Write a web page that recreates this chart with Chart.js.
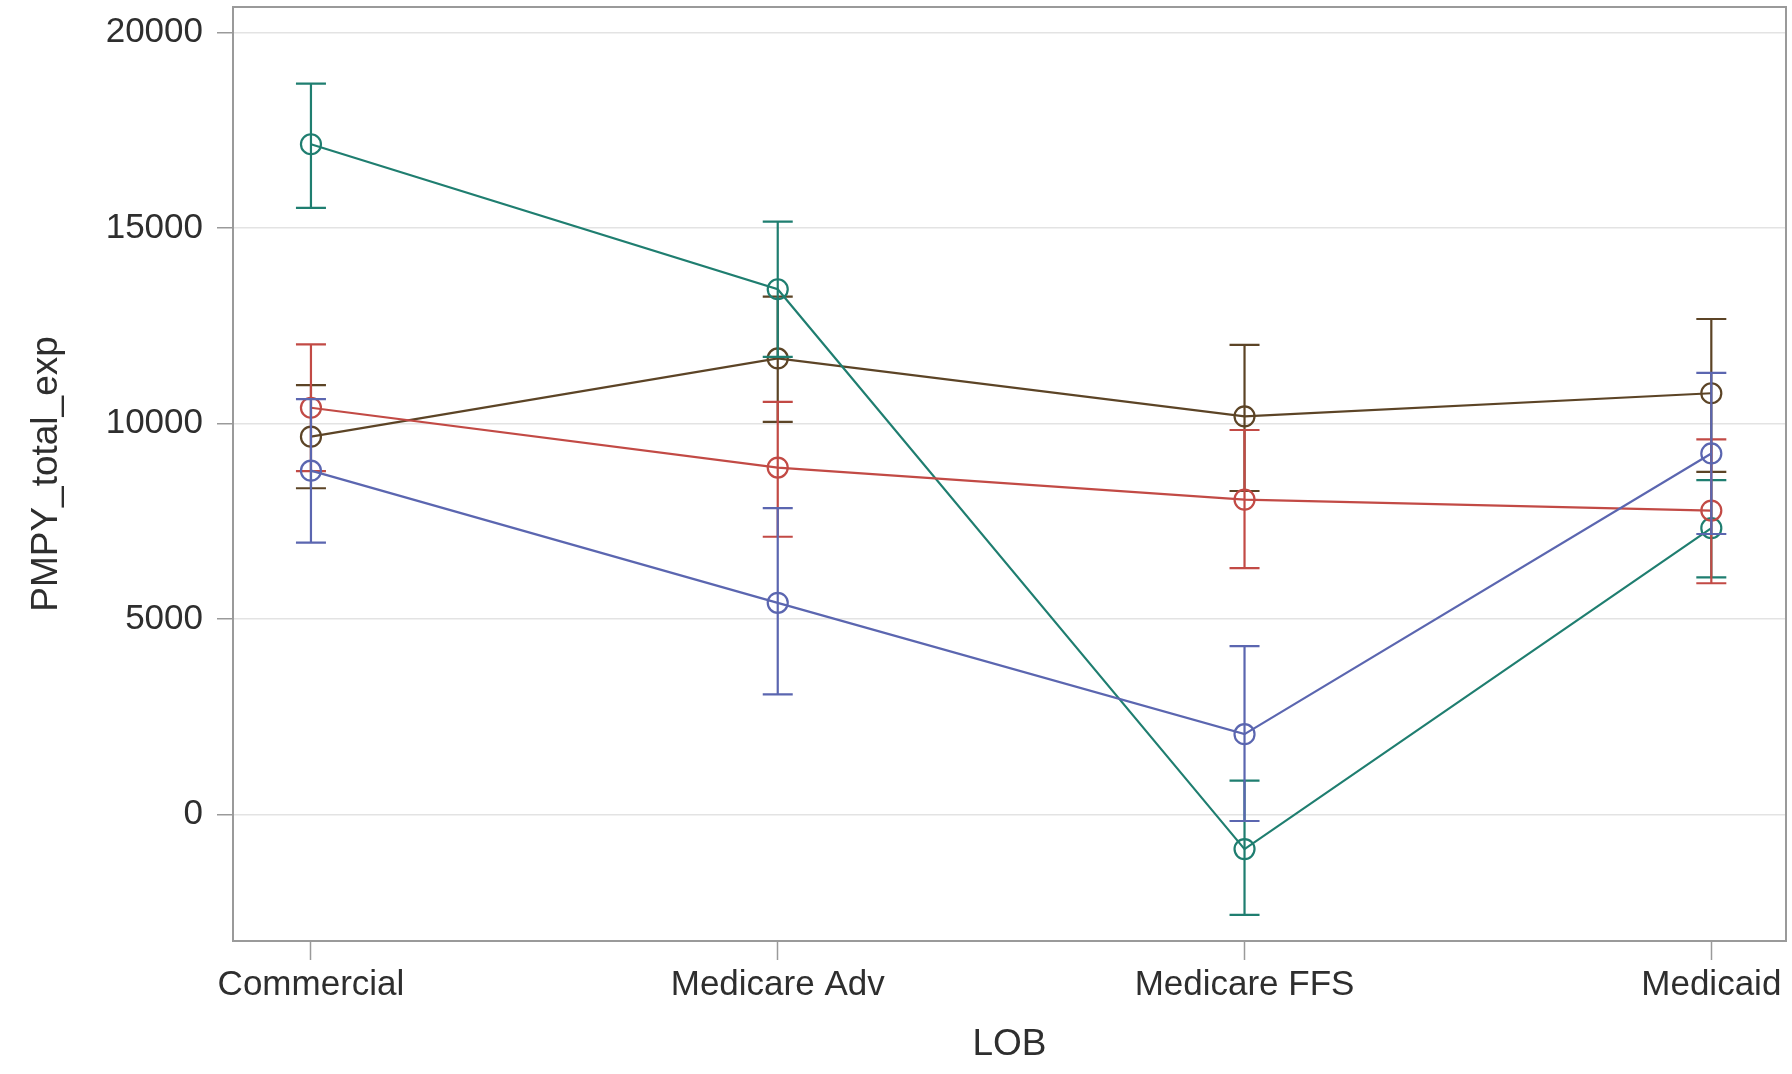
<!DOCTYPE html>
<html>
<head>
<meta charset="utf-8">
<script src="https://cdn.jsdelivr.net/npm/chart.js@4.4.1/dist/chart.umd.min.js"></script>
<style>
html,body{margin:0;padding:0;background:#fff;}
#wrap{width:1792px;height:1074px;}
</style>
</head>
<body>
<div id="wrap"><canvas id="c" width="1792" height="1074"></canvas></div>
<script>
const categories = ['Commercial', 'Medicare Adv', 'Medicare FFS', 'Medicaid'];
const yTicks = [0, 5000, 10000, 15000, 20000];

const blueMean  = [8790, 5410, 2050, 9230];
const blueLower = [6950, 3070, -170, 7170];
const blueUpper = [10620, 7830, 4300, 11290];

const redMean  = [10400, 8870, 8050, 7770];
const redLower = [8780, 7100, 6300, 5910];
const redUpper = [12020, 10550, 9830, 9590];

const tealMean  = [17140, 13430, -890, 7320];
const tealLower = [15510, 11700, -2570, 6060];
const tealUpper = [18690, 15160, 860, 8550];

const brownMean  = [9660, 11660, 10180, 10770];
const brownLower = [8340, 10040, 8270, 8760];
const brownUpper = [10980, 13240, 12010, 12670];

const FONT = '"Liberation Sans", Arial, sans-serif';
const TEXT = '#2e2e2e';
const AXIS = '#9a9a9a';

function mk(label, mean, lower, upper, color) {
  return {
    label: label,
    data: mean.map((v, i) => ({x: i, y: v})),
    errLower: lower,
    errUpper: upper,
    borderColor: color,
    backgroundColor: 'rgba(0,0,0,0)',
    borderWidth: 2.2,
    pointStyle: 'circle',
    pointRadius: 10,
    pointBorderWidth: 2.2,
    pointBorderColor: color,
    pointBackgroundColor: 'rgba(0,0,0,0)',
    tension: 0,
    showLine: true
  };
}

const errorBars = {
  id: 'errorBars',
  afterDatasetDraw(chart, args) {
    const ds = chart.data.datasets[args.index];
    const xs = chart.scales.x, ys = chart.scales.y;
    const ctx = chart.ctx;
    ctx.save();
    ctx.strokeStyle = ds.borderColor;
    ctx.lineWidth = 2.2;
    const cap = 15;
    ds.data.forEach((p, i) => {
      const x = xs.getPixelForValue(p.x);
      const yl = ys.getPixelForValue(ds.errLower[i]);
      const yu = ys.getPixelForValue(ds.errUpper[i]);
      ctx.beginPath();
      ctx.moveTo(x, yl); ctx.lineTo(x, yu);
      ctx.moveTo(x - cap, yl); ctx.lineTo(x + cap, yl);
      ctx.moveTo(x - cap, yu); ctx.lineTo(x + cap, yu);
      ctx.stroke();
    });
    ctx.restore();
  }
};

const frame = {
  id: 'frame',
  afterDraw(chart) {
    const a = chart.chartArea, ctx = chart.ctx;
    ctx.save();
    ctx.strokeStyle = AXIS;
    ctx.lineWidth = 2;
    ctx.strokeRect(a.left, a.top, a.right - a.left, a.bottom - a.top);
    ctx.restore();
  }
};

new Chart(document.getElementById('c'), {
  type: 'line',
  data: {
    datasets: [
      mk('Group 1', blueMean, blueLower, blueUpper, '#5b66b0'),
      mk('Group 2', redMean, redLower, redUpper, '#c24a45'),
      mk('Group 3', tealMean, tealLower, tealUpper, '#1f7e70'),
      mk('Group 4', brownMean, brownLower, brownUpper, '#5c4426')
    ]
  },
  options: {
    responsive: false,
    devicePixelRatio: 1,
    animation: false,
    layout: {autoPadding: false, padding: {top: 7, right: 6, left: 0, bottom: 0}},
    plugins: {legend: {display: false}, tooltip: {enabled: false}},
    scales: {
      x: {
        type: 'linear',
        min: -0.167,
        max: 3.16,
        afterBuildTicks: s => { s.ticks = categories.map((c, i) => ({value: i})); },
        afterFit: s => { s.height = 133; s.paddingLeft = 0; s.paddingRight = 0; },
        ticks: {
          callback: v => categories[Math.round(v)],
          font: {family: FONT, size: 35},
          color: TEXT,
          padding: 4,
          maxRotation: 0,
          autoSkip: false
        },
        grid: {drawOnChartArea: false, drawTicks: true, tickLength: 19, tickColor: AXIS, tickWidth: 1.5},
        border: {display: true, color: AXIS, width: 2},
        title: {display: true, text: 'LOB', color: TEXT, font: {family: FONT, size: 37}, padding: {top: 0, bottom: 7}}
      },
      y: {
        min: -3240,
        max: 20650,
        afterBuildTicks: s => { s.ticks = yTicks.map(v => ({value: v})); },
        afterFit: s => { s.width = 233; s.paddingTop = 0; s.paddingBottom = 0; },
        ticks: {
          callback: v => String(v),
          font: {family: FONT, size: 35},
          color: TEXT,
          padding: 14
        },
        grid: {color: '#e3e3e3', lineWidth: 1.5, drawTicks: true, tickLength: 16, tickColor: AXIS, tickWidth: 1.5},
        border: {display: true, color: AXIS, width: 2},
        title: {display: true, text: 'PMPY_total_exp', color: TEXT, font: {family: FONT, size: 37}, padding: {top: 25, bottom: 0}}
      }
    }
  },
  plugins: [errorBars, frame]
});
</script>
</body>
</html>
